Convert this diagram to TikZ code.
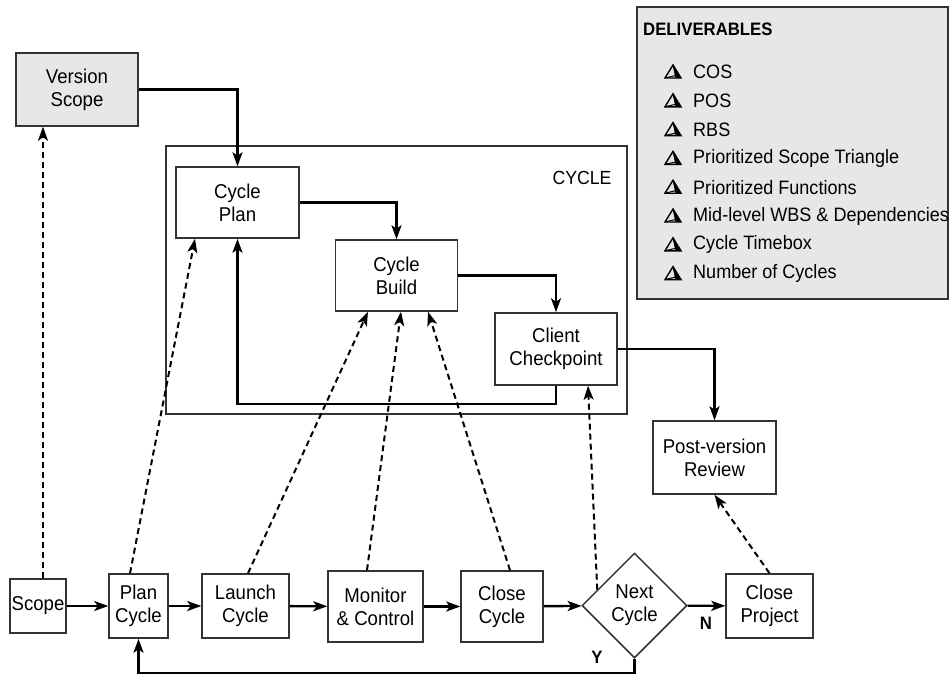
\documentclass[tikz,border=0pt]{standalone}
\usepackage{fontspec}
\setmainfont{Liberation Sans}[FakeStretch=0.93]
\usetikzlibrary{arrows.meta,shapes.geometric,calc}

\definecolor{panelgray}{HTML}{E6E7E8}
\definecolor{linegray}{HTML}{333333}

\begin{document}
\begin{tikzpicture}[
  x=1pt, y=-1pt,
  box/.style={draw=linegray, line width=1.5pt, fill=white, align=center, inner sep=0pt,
    font=\fontsize{20}{23}\selectfont},
  flow/.style={draw=black, line width=2.4pt, -{Stealth[length=14pt,width=10pt,inset=3.5pt]}},
  dflow/.style={draw=black, line width=2pt, dash pattern=on 6pt off 4pt,
    -{Stealth[length=14pt,width=10pt,inset=3.5pt]}},
  tag/.style={font=\fontsize{18}{20}\selectfont\bfseries, inner sep=0pt},
  pyr/.pic={
    \fill[black] (0,-7) -- (2.5,6) -- (8,6) -- cycle;
    \draw[black, line width=1.4pt, line join=miter] (0,-7) -- (-8,6) -- (8,6) -- cycle;
    \draw[black, line width=1pt] (-8,6) -- (2.5,3.5) -- (0,-7);
  }
]
\useasboundingbox (0,0) rectangle (952,673);

% Deliverables panel
\node[draw=linegray, line width=1.5pt, fill=panelgray, minimum width=311pt, minimum height=292pt]
  (delivbox) at (792.5,153) {};
\node[tag, anchor=west] (delivtitle) at (643,29) {DELIVERABLES};
\foreach \item [count=\i from 0] in {COS, POS, RBS, Prioritized Scope Triangle,
    Prioritized Functions, Mid-level WBS \& Dependencies, Cycle Timebox, Number of Cycles} {
  \pic at (673,{72+28.8*\i}) {pyr};
  \node[anchor=west, inner sep=0pt, font=\fontsize{19.4}{22}\selectfont] (deliv\i) at (693,{72+28.8*\i}) {\item};
}

% Cycle frame
\node[draw=linegray, line width=1.5pt, minimum width=461pt, minimum height=268pt] (cyclebox) at (396.5,280) {};
\node[inner sep=0pt, font=\fontsize{19}{21}\selectfont] (cyclelabel) at (582,178) {CYCLE};

% Upper nodes
\node[box, fill=panelgray, minimum width=122pt, minimum height=73pt] (vscope) at (77,89.5) {Version\\Scope};
\node[box, minimum width=123pt, minimum height=71pt] (cplan) at (237.5,202.5) {Cycle\\Plan};
\node[box, minimum width=122pt, minimum height=71pt] (cbuild) at (396.5,275.5) {Cycle\\Build};
\node[box, minimum width=122pt, minimum height=72pt] (ccheck) at (556,349) {Client\\Checkpoint};
\node[box, minimum width=123pt, minimum height=73pt] (pvr) at (714.5,457.5) {Post-version\\Review};

% Lower row
\node[box, minimum width=56pt, minimum height=54pt] (scope) at (38,606) {Scope};
\node[box, minimum width=59pt, minimum height=64pt] (plan) at (138.5,606) {Plan\\Cycle};
\node[box, minimum width=87pt, minimum height=64pt] (launch) at (245.5,606) {Launch\\Cycle};
\node[box, minimum width=95pt, minimum height=71pt] (monitor) at (375.5,606.5) {Monitor\\\& Control};
\node[box, minimum width=82pt, minimum height=71pt] (closec) at (502,606.5) {Close\\Cycle};
\node[box, diamond, aspect=1, minimum width=105pt, minimum height=105pt] (next) at (634.5,605.5) {Next\\Cycle};
\node[box, minimum width=87pt, minimum height=64pt] (closep) at (769.5,606) {Close\\Project};

\node[tag] (nlabel) at (706,623) {N};
\node[tag] (ylabel) at (597,657) {Y};

% Solid flow
\draw[flow] (scope) -- (plan);
\draw[flow] (plan) -- (launch);
\draw[flow] (launch) -- (monitor);
\draw[flow] (monitor) -- (closec);
\draw[flow] (closec) -- (next);
\draw[flow] (next) -- (closep);
\draw[flow] (next.south) -- ++(0,14) -| (plan.south);

\draw[flow] (vscope.east) -| (cplan.north);
\draw[flow] (cplan.east) -| (cbuild.north);
\draw[flow] (cbuild.east) -| (ccheck.north);
\draw[flow] (ccheck.south) -- ++(0,18) -| (cplan.south);
\draw[flow] (ccheck.east) -| (pvr.north);

% Dashed links
\draw[dflow] ([xshift=5pt]scope.north) -- ([xshift=5pt]scope.north |- vscope.south);
\draw[dflow] ([xshift=-8.5pt]plan.north) -- ([xshift=-42.5pt]cplan.south);
\draw[dflow] ([xshift=2.5pt]launch.north) -- ([xshift=-28.5pt]cbuild.south);
\draw[dflow] ([xshift=-8.5pt]monitor.north) -- ([xshift=4.5pt]cbuild.south);
\draw[dflow] ([xshift=8pt]closec.north) -- ([xshift=31.5pt]cbuild.south);
\draw[dflow] ($(next.west)!0.3!(next.north)$) -- ([xshift=32pt]ccheck.south);
\draw[dflow] (closep.north) -- (pvr.south);

\end{tikzpicture}
\end{document}
